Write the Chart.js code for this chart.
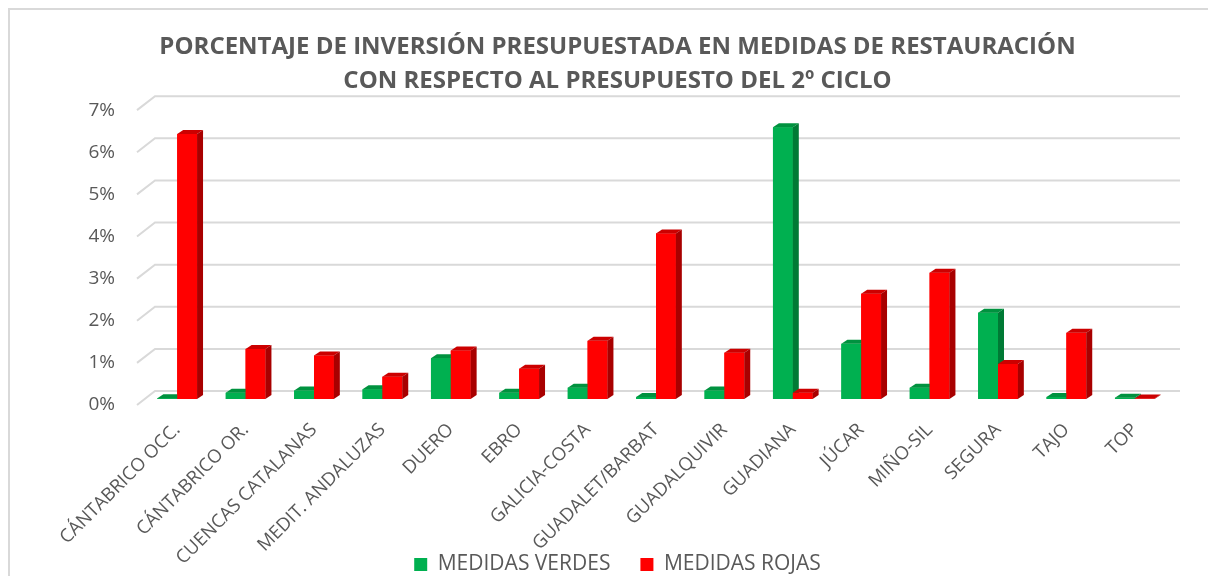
<!DOCTYPE html>
<html>
<head>
<meta charset="utf-8">
<script src="https://cdn.jsdelivr.net/npm/chart.js@4.4.0/dist/chart.umd.min.js"></script>
<style>
  html, body { margin: 0; padding: 0; background: #fff; }
  #wrap { position: relative; width: 1208px; height: 576px; overflow: hidden; }
  #frame { position: absolute; left: 8px; top: 8px; width: 1300px; height: 700px; border: 2px solid #d9d9d9; box-sizing: border-box; pointer-events: none; }
</style>
</head>
<body>
<div id="wrap">
  <canvas id="chart" width="1208" height="576"></canvas>
  <div id="frame"></div>
</div>
<script>
// Data (percent of the 2nd cycle budget)
const categories = ['CÁNTABRICO OCC.', 'CÁNTABRICO OR.', 'CUENCAS CATALANAS', 'MEDIT. ANDALUZAS', 'DUERO', 'EBRO',
  'GALICIA-COSTA', 'GUADALET/BARBAT', 'GUADALQUIVIR', 'GUADIANA', 'JÚCAR', 'MIÑO-SIL', 'SEGURA', 'TAJO', 'TOP'];
const medidasVerdes = [0.02, 0.15, 0.2, 0.23, 0.97, 0.15, 0.27, 0.05, 0.2, 6.45, 1.31, 0.27, 2.05, 0.05, 0.03];
const medidasRojas = [6.29, 1.19, 1.03, 0.53, 1.15, 0.72, 1.38, 3.93, 1.1, 0.15, 2.5, 3.0, 0.83, 1.57, 0.01];
const yTicks = [0, 1, 2, 3, 4, 5, 6, 7];

const GREY = '#595959';
const FONT = "'Open Sans', sans-serif";

// back-wall gridlines with the little diagonal "floor" segment at the left
const wallGrid = {
  id: 'wallGrid',
  afterLayout(chart) {
    // rotated category labels run down past the legend's top, don't clip them
    chart.scales.x.bottom = chart.height;
  },
  beforeDatasetsDraw(chart) {
    const ctx = chart.ctx;
    const yScale = chart.scales.y;
    const area = chart.chartArea;
    ctx.save();
    ctx.strokeStyle = '#d9d9d9';
    ctx.lineWidth = 2;
    yTicks.forEach(v => {
      const y = yScale.getPixelForValue(v);
      ctx.beginPath();
      ctx.moveTo(area.left - 6, y + 6);
      ctx.lineTo(area.left + 12, y - 8);
      ctx.lineTo(area.right + 11, y - 8);
      ctx.stroke();
    });
    ctx.restore();
  }
};

// fake 3D columns: front face, top face, right side
const shades = [
  { front: '#00b050', top: '#00923f', side: '#007a35' },
  { front: '#ff0000', top: '#cc0000', side: '#a80000' }
];
const bar3d = {
  id: 'bar3d',
  afterDatasetsDraw(chart) {
    const ctx = chart.ctx;
    const dx = 6, dy = 4;
    ctx.save();
    for (let j = 0; j < categories.length; j++) {
      chart.data.datasets.forEach((ds, i) => {
        const el = chart.getDatasetMeta(i).data[j];
        const p = el.getProps(['x', 'y', 'base', 'width'], true);
        const x0 = p.x - p.width / 2, x1 = p.x + p.width / 2;
        const c = shades[i];
        ctx.fillStyle = c.front;
        ctx.fillRect(x0, p.y, p.width, p.base - p.y);
        ctx.fillStyle = c.top;
        ctx.beginPath();
        ctx.moveTo(x0, p.y);
        ctx.lineTo(x1, p.y);
        ctx.lineTo(x1 + dx, p.y - dy);
        ctx.lineTo(x0 + dx, p.y - dy);
        ctx.closePath();
        ctx.fill();
        ctx.fillStyle = c.side;
        ctx.beginPath();
        ctx.moveTo(x1, p.y);
        ctx.lineTo(x1 + dx, p.y - dy);
        ctx.lineTo(x1 + dx, p.base - dy);
        ctx.lineTo(x1, p.base);
        ctx.closePath();
        ctx.fill();
      });
    }
    ctx.restore();
  }
};

new Chart(document.getElementById('chart'), {
  type: 'bar',
  data: {
    labels: categories,
    datasets: [
      { label: 'MEDIDAS VERDES', data: medidasVerdes, backgroundColor: '#00b050', borderWidth: 0 },
      { label: 'MEDIDAS ROJAS', data: medidasRojas, backgroundColor: '#ff0000', borderWidth: 0 }
    ]
  },
  plugins: [wallGrid, bar3d],
  options: {
    responsive: false,
    animation: false,
    devicePixelRatio: 1,
    layout: { padding: { left: 66, right: 39, top: 0, bottom: -9 } },
    datasets: { bar: { categoryPercentage: 0.58, barPercentage: 1.0 } },
    plugins: {
      title: {
        display: true,
        text: ['PORCENTAJE DE INVERSIÓN PRESUPUESTADA EN MEDIDAS DE RESTAURACIÓN', 'CON RESPECTO AL PRESUPUESTO DEL 2º CICLO'],
        color: GREY,
        font: { family: FONT, size: 24, weight: 'bold', lineHeight: 1.42 },
        padding: { top: 30, bottom: 6 }
      },
      legend: {
        position: 'bottom',
        labels: {
          color: GREY,
          font: { family: FONT, size: 21 },
          boxWidth: 13,
          boxHeight: 13,
          padding: 30
        }
      },
      tooltip: { enabled: false }
    },
    scales: {
      x: {
        grid: { display: false },
        border: { display: false },
        afterFit(scale) { scale.height = 125; },
        ticks: {
          color: GREY,
          font: { family: FONT, size: 18.5 },
          maxRotation: 45,
          minRotation: 45,
          autoSkip: false,
          padding: 12
        }
      },
      y: {
        min: 0,
        max: 7,
        grid: { display: false },
        border: { display: false },
        afterFit(scale) { scale.width = 77; },
        afterBuildTicks(scale) { scale.ticks = yTicks.map(v => ({ value: v })); },
        ticks: {
          color: GREY,
          font: { family: FONT, size: 19 },
          padding: 20,
          labelOffset: 6,
          callback: v => v + '%'
        }
      }
    }
  }
});
</script>
</body>
</html>
